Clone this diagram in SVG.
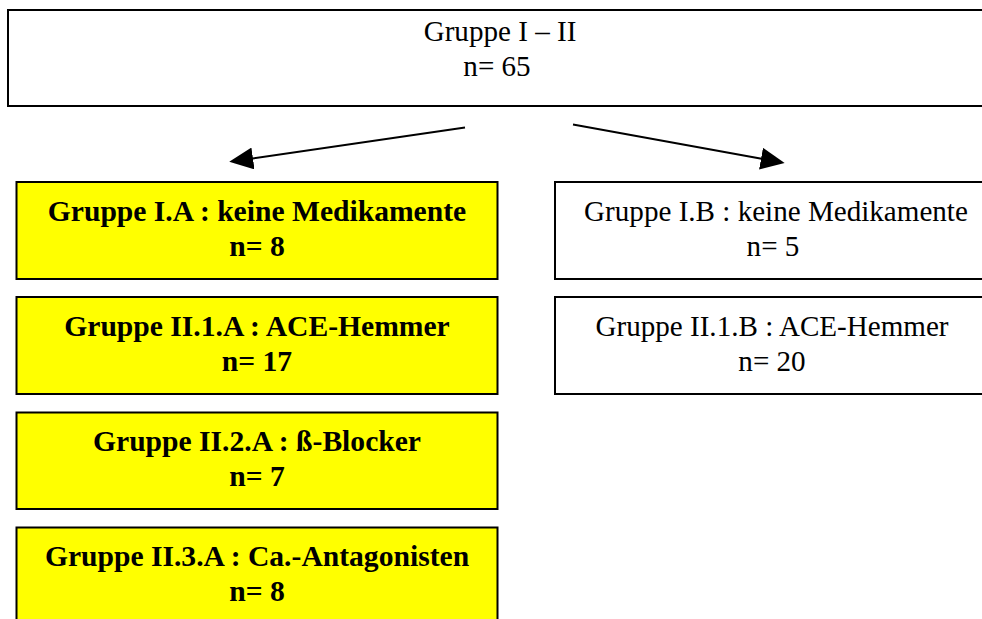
<svg xmlns="http://www.w3.org/2000/svg" width="982" height="619" viewBox="0 0 982 619">
  <defs>
    <style>
      .box { stroke: #000; stroke-width: 2; }
      .plain { fill: #fff; }
      .hi { fill: #ffff00; }
      .lbl { font-family: "Liberation Serif", "Times New Roman", serif; font-size: 29.1px; fill: #000; text-anchor: middle; }
      .b { font-weight: bold; font-size: 29.6px; }
      .edge { stroke: #000; stroke-width: 2; fill: none; marker-end: url(#tip); }
    </style>
    <marker id="tip" markerUnits="userSpaceOnUse" markerWidth="24" markerHeight="22" viewBox="0 0 24 22" refX="2" refY="11" orient="auto">
      <path d="M0,0 L24,11 L0,22 Z" fill="#000"/>
    </marker>
  </defs>

  <rect width="982" height="619" fill="#fff"/>

  <!-- root group -->
  <g id="root">
    <rect class="box plain" x="8" y="10" width="984" height="96"/>
    <text class="lbl" x="500" y="41">Gruppe I – II</text>
    <text class="lbl" x="497" y="76">n= 65</text>
  </g>

  <!-- A column -->
  <g id="g-IA">
    <rect class="box hi" x="16.5" y="182" width="481" height="97"/>
    <text class="lbl b" x="257" y="221">Gruppe I.A : keine Medikamente</text>
    <text class="lbl b" x="257" y="256">n= 8</text>
  </g>
  <g id="g-II1A">
    <rect class="box hi" x="16.5" y="297" width="481" height="97"/>
    <text class="lbl b" x="257" y="336">Gruppe II.1.A : ACE-Hemmer</text>
    <text class="lbl b" x="257" y="371">n= 17</text>
  </g>
  <g id="g-II2A">
    <rect class="box hi" x="16.5" y="412.5" width="481" height="96.5"/>
    <text class="lbl b" x="257" y="451">Gruppe II.2.A : ß-Blocker</text>
    <text class="lbl b" x="257" y="486">n= 7</text>
  </g>
  <g id="g-II3A">
    <rect class="box hi" x="16.5" y="527.5" width="481" height="100"/>
    <text class="lbl b" x="257" y="566">Gruppe II.3.A : Ca.-Antagonisten</text>
    <text class="lbl b" x="257" y="601">n= 8</text>
  </g>

  <!-- B column -->
  <g id="g-IB">
    <rect class="box plain" x="555" y="182" width="440" height="97"/>
    <text class="lbl" x="776" y="221">Gruppe I.B : keine Medikamente</text>
    <text class="lbl" x="773" y="256">n= 5</text>
  </g>
  <g id="g-II1B">
    <rect class="box plain" x="555" y="297" width="440" height="97"/>
    <text class="lbl" x="772" y="336">Gruppe II.1.B : ACE-Hemmer</text>
    <text class="lbl" x="772" y="371">n= 20</text>
  </g>

  <!-- connectors -->
  <g id="connectors">
    <line class="edge" x1="465" y1="127.5" x2="251" y2="158.7"/>
    <line class="edge" x1="573" y1="124.5" x2="763" y2="159"/>
  </g>
</svg>
